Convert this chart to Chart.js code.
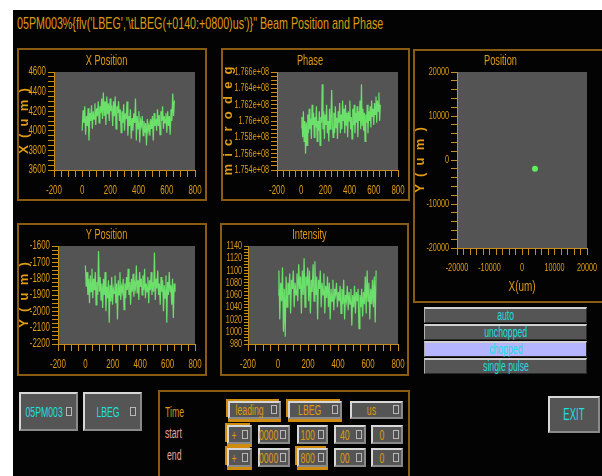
<!DOCTYPE html>
<html>
<head>
<meta charset="utf-8">
<script src="https://cdn.jsdelivr.net/npm/chart.js@4.4.1/dist/chart.umd.min.js"></script>
<style>
html,body{margin:0;padding:0;background:#fff;width:602px;height:476px;overflow:hidden;position:relative}
#screen{position:absolute;left:13px;top:10px;width:589px;height:466px;background:#030303}
.f{font-family:'Liberation Sans',Arial,sans-serif}
.panel{position:absolute;border:2px solid #8a5c12;box-sizing:border-box}
canvas{position:absolute}
#title{position:absolute;left:17px;top:14px;font-size:17px;color:#dc9a12;white-space:nowrap;transform-origin:0 0}
.c{display:inline-block;transform:scaleX(0.62);white-space:nowrap}
.opt{position:absolute;left:424px;width:163px;height:16px;box-sizing:border-box;background:#555;border-top:2px solid #d0d0d0;border-left:1px solid #b0b0b0;border-right:1px solid #2a2a2a;border-bottom:1px solid #2a2a2a;color:#22dede;font-size:14px;text-align:center;line-height:13px}
.btn{position:absolute;box-sizing:border-box;background:#555;border:2px solid;border-color:#d8d8d8 #8a8a8a #8a8a8a #d8d8d8;color:#22dede;font-size:15px}
.btn .t{position:absolute;left:0;right:9px;top:0;bottom:0;display:flex;align-items:center;justify-content:center}
.w .t{position:absolute;left:-2px;right:8px;top:0;bottom:0;display:flex;align-items:center;justify-content:center}
.ind{position:absolute;right:4px;top:50%;width:4px;height:7px;margin-top:-5px;border:1px solid #b8b8b8;background:#505050}
.w .ind{right:2px}
.w{position:absolute;box-sizing:border-box;background:#555;border:2px solid;border-color:#d8d8d8 #8a8a8a #8a8a8a #d8d8d8;color:#dc9a12;font-size:14px}
.hl{box-shadow:-2px -2px 0 0 #d08c10, 0 3px 0 0 #d08c10}
.lab{position:absolute;font-size:14px;line-height:16px;transform:scaleX(0.62);transform-origin:0 0}
</style>
</head>
<body>
<div id="screen"></div>
<div id="title" class="f">05PM003%{flv('LBEG','\tLBEG(+0140:+0800)us')}" Beam Position and Phase</div>

<div class="panel" style="left:17px;top:48px;width:190px;height:153px"></div>
<div class="panel" style="left:221px;top:48px;width:189px;height:153px"></div>
<div class="panel" style="left:17px;top:223px;width:190px;height:153px"></div>
<div class="panel" style="left:220px;top:223px;width:189px;height:153px"></div>
<div class="panel" style="left:413px;top:49px;width:191px;height:254px"></div>

<canvas id="cX" width="187" height="151" style="left:18px;top:49px"></canvas>
<canvas id="cP" width="186" height="151" style="left:222px;top:49px"></canvas>
<canvas id="cY" width="187" height="151" style="left:18px;top:224px"></canvas>
<canvas id="cI" width="186" height="151" style="left:221px;top:224px"></canvas>
<canvas id="cXY" width="186" height="252" style="left:414px;top:50px"></canvas>

<div class="opt f" style="top:307px"><span class="c">auto</span></div>
<div class="opt f" style="top:324px"><span class="c">unchopped</span></div>
<div class="opt f" style="top:341px;background:#b4b4ff"><span class="c">chopped</span></div>
<div class="opt f" style="top:358px"><span class="c">single pulse</span></div>

<div class="btn f" style="left:19px;top:392px;width:59px;height:39px"><div class="t"><span class="c" style="transform:scaleX(0.58)">05PM003</span></div><div class="ind"></div></div>
<div class="btn f" style="left:83px;top:392px;width:59px;height:39px"><div class="t"><span class="c" style="transform:scaleX(0.58)">LBEG</span></div><div class="ind"></div></div>
<div class="btn f" style="left:548px;top:396px;width:52px;height:37px;font-size:17px"><div class="t" style="right:0"><span class="c" style="transform:scaleX(0.56)">EXIT</span></div></div>

<div class="panel" style="left:158px;top:390px;width:252px;height:100px"></div>
<div class="lab f" style="left:165px;top:404px;color:#dc9a12">Time</div>
<div class="lab f" style="left:165px;top:425px;color:#e4a49c">start</div>
<div class="lab f" style="left:167px;top:447px;color:#e4a49c">end</div>

<div class="w f hl" style="left:228px;top:401px;width:53px;height:18px"><div class="t"><span class="c">leading</span></div><div class="ind"></div></div>
<div class="w f hl" style="left:288px;top:401px;width:54px;height:18px"><div class="t"><span class="c">LBEG</span></div><div class="ind"></div></div>
<div class="w f" style="left:350px;top:401px;width:53px;height:18px"><div class="t"><span class="c">us</span></div><div class="ind"></div></div>

<div class="w f hl" style="left:227px;top:425px;width:25px;height:19px"><div class="t"><span class="c">+</span></div><div class="ind"></div></div>
<div class="w f" style="left:258px;top:425px;width:32px;height:19px"><div class="t"><span class="c">0000</span></div><div class="ind"></div></div>
<div class="w f" style="left:297px;top:425px;width:31px;height:19px"><div class="t"><span class="c">100</span></div><div class="ind"></div></div>
<div class="w f" style="left:334px;top:425px;width:32px;height:19px"><div class="t"><span class="c">40</span></div><div class="ind"></div></div>
<div class="w f" style="left:371px;top:425px;width:32px;height:19px"><div class="t"><span class="c">0</span></div><div class="ind"></div></div>

<div class="w f hl" style="left:227px;top:448px;width:25px;height:19px"><div class="t"><span class="c">+</span></div><div class="ind"></div></div>
<div class="w f" style="left:258px;top:448px;width:32px;height:19px"><div class="t"><span class="c">0000</span></div><div class="ind"></div></div>
<div class="w f hl" style="left:297px;top:448px;width:31px;height:19px"><div class="t"><span class="c">800</span></div><div class="ind"></div></div>
<div class="w f" style="left:334px;top:448px;width:32px;height:19px"><div class="t"><span class="c">00</span></div><div class="ind"></div></div>
<div class="w f" style="left:371px;top:448px;width:32px;height:19px"><div class="t"><span class="c">0</span></div><div class="ind"></div></div>

<script>
// ---- sample times (us), one reading every 6 us ----
const SAMPLE_T = Array.from({length: 110}, (_, i) => i * 6);

// ---- X Position (um) ----
const X_POS = [
 4000,4210,4080,4250,3960,4150,4050,4230,3900,4180,
 4100,4260,4020,4200,4120,4280,4060,4230,4150,4300,
 4080,4250,4180,4330,4120,4390,4150,4300,4060,4350,
 4170,4280,4100,4330,4200,4260,4050,4300,4150,4350,
 4020,4250,4180,4300,4100,4220,3980,4200,4080,4270,
 4000,4180,4120,4300,3950,4150,4050,4220,3920,4130,
 4000,4180,4080,4330,3900,4150,4020,4200,3880,4100,
 4050,4150,3950,4100,3980,4080,3850,4120,4000,4060,
 3950,4120,4020,4150,3900,4180,4050,4120,4000,4220,
 4050,4160,3960,4200,4100,4250,4020,4150,4080,4180,
 3980,4200,4050,4150,3960,4220,4100,4380,4150,4310
];

// ---- Phase (microdeg) ----
const PHASE = [
 1.7592e8,1.7605e8,1.7580e8,1.7612e8,1.7575e8,1.7600e8,1.7560e8,1.7598e8,1.7570e8,1.7608e8,
 1.7585e8,1.7615e8,1.7590e8,1.7603e8,1.7578e8,1.7620e8,1.7595e8,1.7610e8,1.7580e8,1.7605e8,
 1.7592e8,1.7618e8,1.7575e8,1.7600e8,1.7588e8,1.7612e8,1.7570e8,1.7605e8,1.7598e8,1.7645e8,
 1.7590e8,1.7612e8,1.7578e8,1.7608e8,1.7595e8,1.7620e8,1.7585e8,1.7600e8,1.7575e8,1.7615e8,
 1.7590e8,1.7605e8,1.7638e8,1.7595e8,1.7580e8,1.7610e8,1.7585e8,1.7618e8,1.7592e8,1.7604e8,
 1.7578e8,1.7612e8,1.7598e8,1.7622e8,1.7585e8,1.7608e8,1.7590e8,1.7625e8,1.7600e8,1.7615e8,
 1.7585e8,1.7620e8,1.7595e8,1.7610e8,1.7580e8,1.7612e8,1.7600e8,1.7625e8,1.7590e8,1.7605e8,
 1.7578e8,1.7615e8,1.7595e8,1.7620e8,1.7585e8,1.7610e8,1.7598e8,1.7618e8,1.7580e8,1.7612e8,
 1.7600e8,1.7625e8,1.7590e8,1.7645e8,1.7595e8,1.7615e8,1.7588e8,1.7610e8,1.7575e8,1.7608e8,
 1.7598e8,1.7620e8,1.7585e8,1.7612e8,1.7600e8,1.7618e8,1.7592e8,1.7625e8,1.7605e8,1.7615e8,
 1.7595e8,1.7622e8,1.7608e8,1.7630e8,1.7598e8,1.7625e8,1.7612e8,1.7635e8,1.7600e8,1.7620e8
];

// ---- Y Position (um) ----
const Y_POS = [
 -1720,-1850,-1760,-1900,-1800,-1950,-1780,-1880,-1740,-1920,
 -1800,-1870,-1760,-1960,-1820,-1900,-1630,-1880,-1790,-1930,
 -1830,-1980,-1800,-1900,-1760,-2000,-1850,-1920,-1810,-2070,
 -1840,-1940,-1790,-1960,-1860,-1890,-1780,-1950,-1830,-2050,
 -1810,-1900,-1760,-1930,-1850,-1880,-1800,-1990,-1830,-1920,
 -1790,-1870,-1740,-1900,-1820,-1960,-1800,-1880,-1770,-1910,
 -1830,-1860,-1720,-1890,-1810,-1930,-1760,-1850,-1800,-1900,
 -1780,-1870,-1740,-1920,-1830,-1880,-1790,-1950,-1810,-1870,
 -1760,-1900,-1820,-1880,-1640,-1930,-1800,-1860,-1750,-1900,
 -1830,-1960,-1790,-1880,-1810,-2000,-1840,-1920,-1780,-2070,
 -1820,-1900,-1760,-1880,-1840,-1960,-1800,-2040,-1830,-1880
];

// ---- Intensity ----
const INTENSITY = [
 1060,1100,1020,1080,1050,1105,1000,1070,992,1090,
 1040,1080,1060,1095,1030,1085,1070,1100,1040,1080,
 1060,1095,1050,1110,1070,1090,1030,1100,1060,1120,
 1040,1090,1075,1105,1050,1100,1030,1085,1065,1110,
 1050,1115,1060,1090,1020,1085,1070,1100,1040,1080,
 1060,1095,1030,1075,1055,1090,1040,1080,1020,1070,
 1050,1085,1035,1070,1060,1080,1040,1065,1050,1075,
 1030,1070,1045,1085,1020,1060,1050,1075,1035,1065,
 1045,1070,1010,1060,1040,1075,1030,1065,1050,1070,
 1005,1060,1040,1070,1025,1065,1045,1090,1030,1100,
 1050,1080,1020,1070,1045,1085,1040,1090,1015,1100
];

// ---- Beam position (X/Y scatter, um) ----
const POS_X = [4000];
const POS_Y = [-2000];

// ---- axis tick labels ----
const TIME_LABELS = [-200, 0, 200, 400, 600, 800];
const POS_LABELS = [-20000, -10000, 0, 10000, 20000];

const FONT = "'Liberation Sans',Arial,sans-serif";
const ORANGE = '#e09c14';
const AXIS = '#c88e1c';
const GREEN = 'rgba(110,240,110,0.9)';

// condensed canvas text (the reference uses a very narrow font)
const TEXT_SX = 0.66;
(function () {
  const P = CanvasRenderingContext2D.prototype;
  const fill = P.fillText, measure = P.measureText;
  P.fillText = function (t, x, y, mw) {
    const m = this.getTransform();
    if (Math.abs(m.b) > 1e-6) { return fill.call(this, t, x, y); }
    this.save();
    this.translate(x, y);
    this.scale(TEXT_SX, 1);
    if (mw !== undefined && mw !== null) fill.call(this, t, 0, 0, mw / TEXT_SX);
    else fill.call(this, t, 0, 0);
    this.restore();
  };
  P.measureText = function (t) {
    const r = measure.call(this, t);
    return {width: r.width * TEXT_SX,
            actualBoundingBoxAscent: r.actualBoundingBoxAscent,
            actualBoundingBoxDescent: r.actualBoundingBoxDescent,
            actualBoundingBoxLeft: r.actualBoundingBoxLeft * TEXT_SX,
            actualBoundingBoxRight: r.actualBoundingBoxRight * TEXT_SX};
  };
})();

const plotBg = {
  id: 'plotBg',
  beforeDraw(chart) {
    const {ctx, chartArea: a} = chart;
    ctx.save();
    ctx.fillStyle = '#545454';
    ctx.fillRect(a.left, a.top, a.right - a.left, a.bottom - a.top);
    ctx.restore();
  }
};

function zeroPad(s) { s.paddingTop = 0; s.paddingBottom = 0; s.paddingLeft = 0; s.paddingRight = 0; }

function axisY(min, max, step, fmt, width, title, fontSize, tickLen) {
  return {
    type: 'linear', position: 'left', min, max,
    afterFit(s) { s.width = width; zeroPad(s); },
    ticks: {stepSize: step, autoSkip: false, callback: fmt, color: ORANGE,
            font: {family: FONT, size: fontSize || 12}, padding: 2},
    grid: {drawOnChartArea: false, tickLength: tickLen || 6, tickColor: AXIS, color: AXIS},
    border: {display: true, color: AXIS, width: 1},
    title: {display: !!title, text: title || '', color: ORANGE,
            font: {family: FONT, size: 13, weight: 'bold', lineHeight: 1}, padding: 0}
  };
}

function axisX(min, max, step, labels, height, title, fontSize) {
  return {
    type: 'linear', position: 'bottom', min, max,
    afterFit(s) { s.height = height; zeroPad(s); },
    ticks: {stepSize: step, autoSkip: false, maxRotation: 0, minRotation: 0,
            callback: v => labels.includes(v) ? String(v) : '',
            color: ORANGE, font: {family: FONT, size: fontSize || 12}, padding: 6},
    grid: {drawOnChartArea: false, tickLength: 7, tickColor: AXIS, color: AXIS},
    border: {display: true, color: AXIS, width: 1},
    title: {display: !!title, text: title || '', color: ORANGE,
            font: {family: FONT, size: 15}, padding: {top: 0, bottom: 6}}
  };
}

function baseOptions(titleText, topH, padRight, xAxis, yAxis) {
  return {
    responsive: false, animation: false, devicePixelRatio: 1,
    layout: {padding: {left: 0, right: padRight, top: 0, bottom: 0}, autoPadding: false},
    plugins: {
      legend: {display: false}, tooltip: {enabled: false},
      title: {display: true, text: titleText, color: ORANGE,
              font: {family: FONT, size: 14, weight: 'normal', lineHeight: 1.2},
              padding: {top: topH - 16.8 - 2, bottom: 2}}
    },
    scales: {x: xAxis, y: yAxis}
  };
}

function timeChart(id, title, values, yMin, yMax, yStep, fmt, yW, yTitle, topH, xH, padRight, yFont, tickLen) {
  const pts = SAMPLE_T.map((t, i) => ({x: t, y: values[i]}));
  new Chart(document.getElementById(id), {
    type: 'line',
    data: {datasets: [{data: pts, borderColor: GREEN, borderWidth: 1.2, pointRadius: 0, tension: 0, fill: false}]},
    options: baseOptions(title, topH, padRight,
      axisX(-200, 800, 50, TIME_LABELS, xH, ''),
      axisY(yMin, yMax, yStep, fmt, yW, yTitle, yFont, tickLen)),
    plugins: [plotBg]
  });
}

timeChart('cX', 'X Position', X_POS, 3600, 4600, 50,
  v => v % 200 === 0 ? String(v) : '', 36, 'X  (  u  m  )', 23, 30, 10);

timeChart('cP', 'Phase', PHASE, 1.754e8, 1.766e8, 50000,
  v => Math.round(v / 50000) % 4 === 0 ? (parseFloat((v / 1e8).toFixed(3)) + 'e+08') : '',
  55, 'm  i  c  r  o  d  e  g', 23, 30, 10, 11);

timeChart('cY', 'Y Position', Y_POS, -2200, -1600, 25,
  v => v % 100 === 0 ? String(v) : '', 40, 'Y  (  u  m  )', 22, 31, 10);

timeChart('cI', 'Intensity', INTENSITY, 980, 1140, 5,
  v => v % 20 === 0 ? String(v) : '', 27, '', 22, 31, 9, 11, 4);

new Chart(document.getElementById('cXY'), {
  type: 'scatter',
  data: {datasets: [{data: POS_X.map((x, i) => ({x, y: POS_Y[i]})), backgroundColor: '#5cf05c',
                     borderWidth: 0, pointRadius: 3}]},
  options: baseOptions('Position', 22, 13,
    axisX(-20000, 20000, 2000, POS_LABELS, 54, 'X(um)', 11),
    axisY(-20000, 20000, 2000, v => POS_LABELS.includes(v) ? String(v) : '', 43, 'Y  (  u  m  )', 11)),
  plugins: [plotBg]
});

// fit page title width to the reference (~366px)
const tt = document.getElementById('title');
tt.style.transform = 'scaleX(' + (366 / tt.offsetWidth) + ')';
</script>
</body>
</html>
